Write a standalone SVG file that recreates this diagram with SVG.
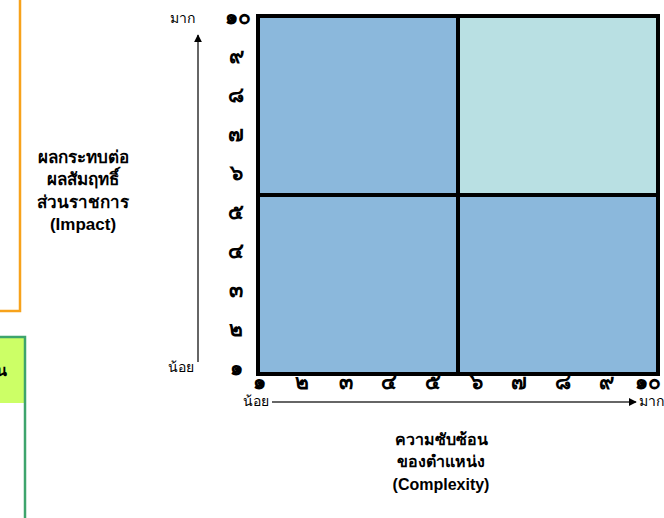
<svg xmlns="http://www.w3.org/2000/svg" width="664" height="518" viewBox="0 0 664 518">
  <style>
    .lbl { font-family: "Liberation Sans", Arial, sans-serif; font-weight: bold; font-size: 16px; fill: #000; text-anchor: middle; }
    .big { font-size: 17px; }
    .tick { font-family: "Liberation Sans", Arial, sans-serif; font-weight: bold; font-size: 21px; fill: #000; text-anchor: middle; }
    .end { font-family: "Liberation Sans", Arial, sans-serif; font-size: 14px; fill: #000; }
    .grid { fill: none; stroke: #000; stroke-width: 4; }
    .axis { stroke: #333; stroke-width: 1.5; fill: none; }
  </style>
  <defs>
    <marker id="arrow" viewBox="0 0 10 10" refX="9" refY="5" markerWidth="8" markerHeight="8" markerUnits="userSpaceOnUse" orient="auto">
      <path d="M0,0 L10,5 L0,10 z" fill="#000"/>
    </marker>
  </defs>

  <!-- neighbouring panels, cut by the page edge -->
  <g id="panel-orange">
    <rect x="-40" y="-20" width="60" height="331" fill="#fff" stroke="#f7a21b" stroke-width="2.5"/>
  </g>
  <g id="panel-green">
    <rect x="-40" y="337" width="65" height="66" fill="#ccff66"/>
    <rect x="-40" y="337" width="65" height="200" fill="none" stroke="#3da46c" stroke-width="2.5"/>
    <text class="lbl" x="7" y="376" style="text-anchor:end">น</text>
  </g>

  <!-- impact / complexity matrix -->
  <g id="matrix">
    <rect x="258" y="16" width="200" height="179" fill="#8bb8dc"/>
    <rect x="458" y="16" width="200" height="179" fill="#b9e0e3"/>
    <rect x="258" y="195" width="200" height="179" fill="#8bb8dc"/>
    <rect x="458" y="195" width="200" height="179" fill="#8bb8dc"/>
    <rect class="grid" x="258" y="16" width="400" height="358"/>
    <line class="grid" x1="458" y1="16" x2="458" y2="374"/>
    <line class="grid" x1="258" y1="195" x2="658" y2="195"/>
  </g>

  <!-- vertical scale -->
  <g id="y-scale">
    <text class="tick" x="236" y="375">๑</text>
    <text class="tick" x="236" y="336">๒</text>
    <text class="tick" x="236" y="297">๓</text>
    <text class="tick" x="236" y="258">๔</text>
    <text class="tick" x="236" y="219">๕</text>
    <text class="tick" x="236" y="180">๖</text>
    <text class="tick" x="236" y="141">๗</text>
    <text class="tick" x="236" y="102">๘</text>
    <text class="tick" x="236" y="63">๙</text>
    <text class="tick" x="238" y="24">๑๐</text>
  </g>

  <!-- horizontal scale -->
  <g id="x-scale">
    <text class="tick" x="259" y="389">๑</text>
    <text class="tick" x="302" y="389">๒</text>
    <text class="tick" x="346" y="389">๓</text>
    <text class="tick" x="389" y="389">๔</text>
    <text class="tick" x="433" y="389">๕</text>
    <text class="tick" x="476" y="389">๖</text>
    <text class="tick" x="519" y="389">๗</text>
    <text class="tick" x="563" y="389">๘</text>
    <text class="tick" x="606" y="389">๙</text>
    <text class="tick" x="648" y="389">๑๐</text>
  </g>

  <g id="connectors">
    <line class="axis" x1="198" y1="362" x2="198" y2="35" marker-end="url(#arrow)"/>
    <line class="axis" x1="272" y1="402" x2="636" y2="402" marker-end="url(#arrow)"/>
  </g>

  <g id="axis-ends">
    <text class="end" x="195" y="23" text-anchor="end">มาก</text>
    <text class="end" x="194" y="372" text-anchor="end">น้อย</text>
    <text class="end" x="243" y="406">น้อย</text>
    <text class="end" x="639" y="406">มาก</text>
  </g>

  <g id="impact-title">
    <text class="lbl big" x="83" y="163">ผลกระทบต่อ</text>
    <text class="lbl big" x="83" y="185">ผลสัมฤทธิ์</text>
    <text class="lbl big" x="83" y="208">ส่วนราชการ</text>
    <text class="lbl big" x="83" y="230">(Impact)</text>
  </g>

  <g id="complexity-title">
    <text class="lbl" x="441" y="445">ความซับซ้อน</text>
    <text class="lbl" x="441" y="467">ของตำแหน่ง</text>
    <text class="lbl" x="441" y="490">(Complexity)</text>
  </g>
</svg>
